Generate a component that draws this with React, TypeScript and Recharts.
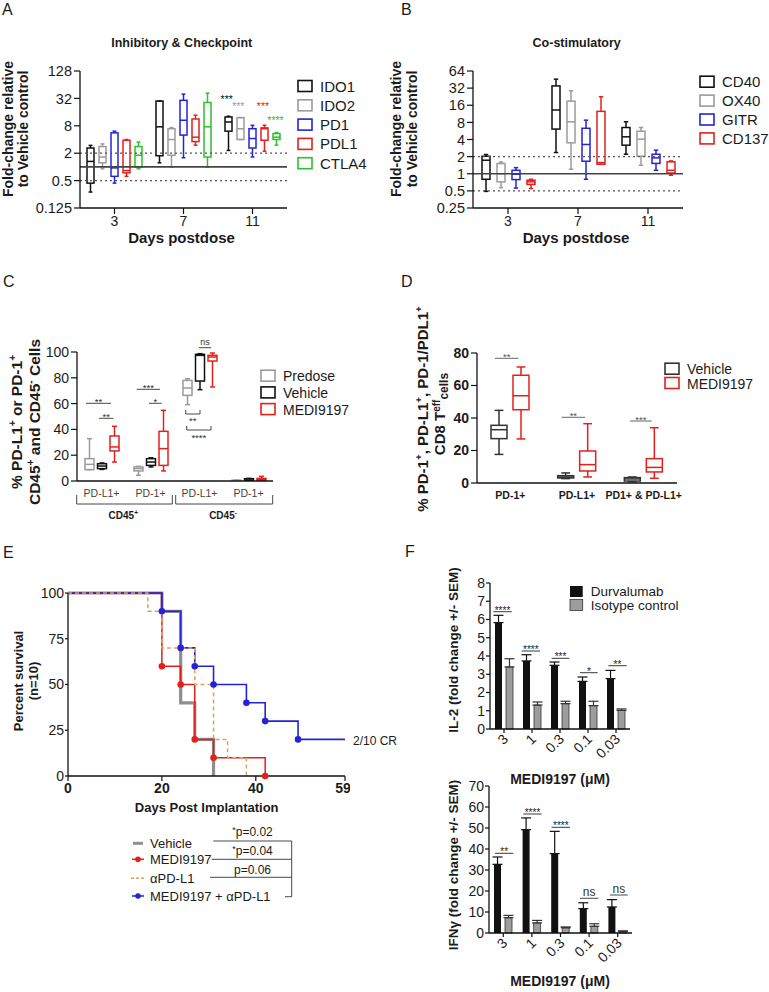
import { BarChart, Bar, XAxis, YAxis, ReferenceLine, LineChart, Line, ErrorBar } from "recharts";

const FONT = "'Liberation Sans', Arial, Helvetica, sans-serif";
const INK = "#1b1b1b";
const BLUE = "#2424d6";
const RED = "#e3211c";
const GREEN = "#2cc12c";
const GRAY = "#9b9b9b";

// ---- A: inhibitory & checkpoint, fold change per day: [min, q1, median, q3, max]
const daysA = ["3", "7", "11"];
const ido1A = [[0.28, 0.44, 1.32, 2.6, 2.97], [1.23, 1.76, 7.6, 28, 28], [2.3, 6.1, 9.7, 12.5, 13]];
const ido2A = [[0.91, 1.23, 1.65, 2.8, 3.2], [0.99, 1.8, 4, 6.9, 7.3], [4, 4, 6.9, 12.1, 12.1]];
const pd1A = [[0.44, 0.62, 0.95, 5.6, 6.1], [1.59, 5.0, 10.6, 29, 39.7], [1.65, 2.6, 4.2, 6.9, 8.2]];
const pdl1A = [[0.62, 0.74, 0.83, 3.85, 4], [3.0, 3.6, 4.5, 11.3, 13.7], [2.2, 3.85, 6.9, 7.2, 8.2]];
const ctla4A = [[0.91, 0.99, 1.8, 2.8, 3.5], [0.99, 1.65, 7.6, 26, 41.8], [3, 4, 4.5, 5.4, 5.7]];

// ---- B: co-stimulatory
const daysB = ["3", "7", "11"];
const cd40B = [[0.49, 0.8, 1.73, 2.03, 2.18], [2.36, 6.1, 13.2, 35, 46], [2.2, 3.18, 4.46, 6.5, 8.2]];
const ox40B = [[0.57, 0.72, 1.0, 1.51, 1.61], [1.2, 3.5, 8.2, 18.9, 28.8], [1.41, 2.03, 4.06, 5.6, 6.5]];
const gitrB = [[0.56, 0.79, 0.98, 1.15, 1.28], [0.8, 1.66, 3.27, 6.3, 8.75], [1.15, 1.52, 1.9, 2.2, 2.6]];
const cd137B = [[0.55, 0.65, 0.72, 0.77, 0.8], [1.47, 1.47, 1.57, 12.5, 22.6], [0.94, 1.03, 1.15, 1.62, 1.68]];

// ---- C: % PD-L1+ / PD-1+ cells (CD45+ pair, then CD45- pair)
const catsC = ["PD-L1+", "PD-1+", "PD-L1+", "PD-1+"];
const predoseC = [[8.8, 8.8, 12.9, 17.3, 32.8], [4.4, 7.8, 9.6, 10.9, 11.4], [59.2, 66.4, 72.1, 78, 79.3], [0, 0, 0.3, 0.6, 0.8]];
const vehicleC = [[9, 9.6, 11.6, 13.4, 14], [10.9, 12.1, 14.7, 17.3, 18], [70.8, 77.5, 97.4, 98.2, 98.7], [0, 0.2, 0.8, 1.8, 2]];
const mediC = [[14.7, 23.3, 26.4, 34.9, 42.4], [7.8, 12.1, 25.1, 38.5, 54.8], [72.9, 93, 96.1, 97.4, 99.2], [0, 0.3, 1, 2, 3.6]];

// ---- D: CD8 Teff cells
const catsD = ["PD-1+", "PD-L1+", "PD1+ & PD-L1+"];
const vehicleD = [[17.6, 27.3, 32.8, 35.5, 44.7], [2.7, 3.1, 3.7, 4.5, 6.2], [0.8, 1.2, 2.5, 3.3, 3.7]];
const mediD = [[27.1, 45.1, 53.7, 66.3, 71.4], [3.7, 7.4, 11.3, 19.7, 36.5], [2.9, 6.8, 9.6, 15, 34]];

// ---- E: survival [day, percent]
const survVehicle = [[0, 100], [20, 90], [24, 40], [27, 20], [31, 0]];
const survMedi = [[0, 100], [20, 60], [24, 50], [27, 20], [31, 10], [42, 0]];
const survPdl1 = [[0, 100], [17, 90], [20, 70], [27, 50], [31, 20], [34, 10], [38, 0]];
const survCombo = [[0, 100], [20, 90], [24, 70], [27, 60], [31, 50], [38, 40], [42, 30], [49, 20], [59, 20]];

// ---- F: fold change +/- SEM per MEDI9197 dose
const doses = ["3", "1", "0.3", "0.1", "0.03"];
const il2Durva = [5.83, 3.73, 3.49, 2.61, 2.76];
const il2DurvaSem = [0.4, 0.34, 0.18, 0.24, 0.45];
const il2Iso = [3.4, 1.31, 1.39, 1.28, 1.02];
const il2IsoSem = [0.45, 0.17, 0.13, 0.24, 0.08];
const ifnDurva = [32.7, 49.2, 37.8, 11.6, 12.4];
const ifnDurvaSem = [3.5, 5.6, 10.6, 2.8, 3.5];
const ifnIso = [7.3, 4.8, 2.5, 3.2, 0.8];
const ifnIsoSem = [1.1, 1.2, 0.4, 1.2, 0.2];

const axisStyle = { stroke: "#111", strokeWidth: 1.3 };
const tickLineStyle = { stroke: "#111", strokeWidth: 1.2 };

function BoxShape(props: any) {
    const { x, y, width, height, stats, color, log } = props;
    if (!stats || !isFinite(y) || !isFinite(height)) return <g />;
    const f = log ? (v: number) => Math.log2(v) : (v: number) => v;
    const [lo, q1, med, q3, hi] = stats;
    const top = Math.min(y, y + height);
    const h = Math.abs(height);
    // pixels per unit, taken from the bar the library placed for [q1, q3]
    const k = h / (f(q3) - f(q1));
    const py = (v: number) => top + (f(q3) - f(v)) * k;
    const cx = x + width / 2;
    const cap = Math.max(3, width * 0.55) / 2;
    return (
        <g stroke={color} strokeWidth={1.5} fill="none">
            <line x1={cx} x2={cx} y1={py(hi)} y2={top} />
            <line x1={cx} x2={cx} y1={top + h} y2={py(lo)} />
            <line x1={cx - cap} x2={cx + cap} y1={py(hi)} y2={py(hi)} />
            <line x1={cx - cap} x2={cx + cap} y1={py(lo)} y2={py(lo)} />
            <rect x={x} y={top} width={width} height={h} />
            <line x1={x} x2={x + width} y1={py(med)} y2={py(med)} />
        </g>
    );
}

function BoxPanel({ frame, cats, series, log = false, domain, ticks, barSize, barGap, yTick, xTick, xHeight = 20, xTickLine = false, children }: any) {
    const rows = cats.map((c: string, i: number) => {
        const row: any = { id: i, label: c };
        series.forEach((s: any) => { row[s.name] = s.stats[i]; });
        return row;
    });
    return (
        <div style={{ position: "absolute", left: frame.left, top: frame.top }}>
            <BarChart width={frame.width} height={frame.height} data={rows} margin={frame.margin} barSize={barSize} barGap={barGap}>
                <XAxis
                    dataKey="id"
                    type="category"
                    height={xHeight}
                    tickFormatter={(i: number) => cats[i]}
                    tick={xTick}
                    axisLine={axisStyle}
                    tickLine={xTickLine ? tickLineStyle : false}
                    tickSize={xTickLine ? 6 : 4}
                    tickMargin={xTickLine ? 2 : 5}
                    interval={0}
                />
                <YAxis
                    scale={log ? "log" : "linear"}
                    domain={domain}
                    ticks={ticks}
                    allowDataOverflow
                    width={frame.yWidth}
                    tick={yTick}
                    axisLine={axisStyle}
                    tickLine={tickLineStyle}
                    tickSize={6}
                    tickMargin={2}
                    interval={0}
                />
                {children}
                {series.map((s: any) => (
                    <Bar
                        key={s.name}
                        name={s.name}
                        dataKey={(r: any) => [r[s.name][1], r[s.name][3]]}
                        isAnimationActive={false}
                        shape={(p: any) => <BoxShape {...p} stats={p.payload[s.name]} color={s.color} log={log} />}
                    />
                ))}
            </BarChart>
        </div>
    );
}

function SurvivalPanel() {
    const curves = [
        { name: "Vehicle", pts: survVehicle, color: "#8e8e8e", width: 3.2, dash: undefined, marker: false },
        { name: "MEDI9197", pts: survMedi, color: RED, width: 1.5, dash: undefined, marker: true },
        { name: "MEDI9197 + aPD-L1", pts: survCombo, color: BLUE, width: 1.6, dash: undefined, marker: true },
        { name: "aPD-L1", pts: survPdl1, color: "#dba35e", width: 1.5, dash: "4 3", marker: false },
    ];
    return (
        <div style={{ position: "absolute", left: 0, top: 560 }}>
            <LineChart width={350} height={246} margin={{ top: 33, right: 5, bottom: 0, left: 28 }}>
                <XAxis
                    dataKey="day"
                    type="number"
                    domain={[0, 59]}
                    ticks={[0, 20, 40, 59]}
                    allowDataOverflow
                    height={30}
                    tick={{ fontSize: 14, fontWeight: 700, fill: INK }}
                    axisLine={axisStyle}
                    tickLine={tickLineStyle}
                    tickSize={5}
                    tickMargin={2}
                />
                <YAxis
                    domain={[0, 100]}
                    ticks={[0, 25, 50, 75, 100]}
                    width={40}
                    tick={{ fontSize: 14, fill: INK }}
                    axisLine={axisStyle}
                    tickLine={tickLineStyle}
                    tickSize={3}
                    tickMargin={1}
                />
                {curves.map((s) => (
                    <Line
                        key={s.name}
                        name={s.name}
                        data={s.pts.map(([day, pct]) => ({ day, pct }))}
                        dataKey="pct"
                        type="stepAfter"
                        stroke={s.color}
                        strokeWidth={s.width}
                        strokeDasharray={s.dash}
                        isAnimationActive={false}
                        activeDot={false}
                        dot={(p: any) => {
                            const i = p.index;
                            const event = s.marker && i > 0 && s.pts[i][1] !== s.pts[i - 1][1];
                            return event
                                ? <circle key={`${s.name}-${i}`} cx={p.cx} cy={p.cy} r={3.3} fill={s.color} stroke="none" />
                                : <g key={`${s.name}-${i}`} />;
                        }}
                    />
                ))}
            </LineChart>
        </div>
    );
}

const SlantTick = ({ x, y, payload }: any) => (
    <text transform={`translate(${x + 5},${y + 5}) rotate(-45)`} textAnchor="end" fontSize={14} fill={INK}>
        {payload.value}
    </text>
);

function DosePanel({ frame, durva, durvaSem, iso, isoSem, ticks }: any) {
    const rows = doses.map((d, i) => ({
        dose: d,
        durva: durva[i],
        durvaErr: [0, durvaSem[i]],
        iso: iso[i],
        isoErr: [0, isoSem[i]],
    }));
    return (
        <div style={{ position: "absolute", left: frame.left, top: frame.top }}>
            <BarChart width={frame.width} height={frame.height} data={rows} margin={frame.margin} barSize={7} barGap={4}>
                <XAxis dataKey="dose" height={40} tick={<SlantTick />} axisLine={axisStyle} tickLine={tickLineStyle} tickSize={4} interval={0} />
                <YAxis
                    domain={[ticks[0], ticks[ticks.length - 1]]}
                    ticks={ticks}
                    width={35}
                    tick={{ fontSize: 14, fill: INK }}
                    axisLine={axisStyle}
                    tickLine={tickLineStyle}
                    tickSize={4}
                    tickMargin={1}
                    interval={0}
                />
                <Bar dataKey="durva" fill="#111" isAnimationActive={false}>
                    <ErrorBar dataKey="durvaErr" width={5} stroke="#111" strokeWidth={1.2} direction="y" />
                </Bar>
                <Bar dataKey="iso" fill="#9d9d9d" stroke="#333" strokeWidth={0.8} isAnimationActive={false}>
                    <ErrorBar dataKey="isoErr" width={5} stroke="#333" strokeWidth={1.2} direction="y" />
                </Bar>
            </BarChart>
        </div>
    );
}

// ---------- annotation helpers ----------
const VText = ({ x, y, size, children, weight = 700 }: any) => (
    <text transform={`translate(${x},${y}) rotate(-90)`} textAnchor="middle" fontSize={size} fontWeight={weight} fill={INK}>
        {children}
    </text>
);

const Sig = ({ x1, x2, y, label, color = "#333", size = 10 }: any) => (
    <g>
        <line x1={x1} x2={x2} y1={y} y2={y} stroke={color} strokeWidth={0.9} />
        <text x={(x1 + x2) / 2} y={label === "ns" ? y - 2.5 : y + 2} textAnchor="middle" fontSize={size} fill={color}>
            {label}
        </text>
    </g>
);

const LegendBoxes = ({ x, y0, step, items, size = 15 }: any) => (
    <g>
        {items.map((it: any, i: number) => (
            <g key={it.name}>
                <rect x={x} y={y0 + i * step - 5.5} width={14} height={11} fill="none" stroke={it.color} strokeWidth={1.6} />
                <text x={x + 22} y={y0 + i * step + 5.5} fontSize={size} fill={INK}>{it.name}</text>
            </g>
        ))}
    </g>
);

const sup = (s: string, size: number, last = false, next = "") => [
    <tspan key={"a" + s + next} dy={-size * 0.38} fontSize={size * 0.65}>{s}</tspan>,
    last ? null : <tspan key={"b" + s + next} dy={size * 0.38}>{next}</tspan>,
];

function Overlay() {
    return (
        <svg width={769} height={992} style={{ position: "absolute", left: 0, top: 0, pointerEvents: "none" }} fontFamily={FONT}>
            {/* panel letters */}
            <g fontSize={16} fill={INK}>
                <text x={2} y={15}>A</text>
                <text x={401} y={15}>B</text>
                <text x={3} y={287}>C</text>
                <text x={401} y={287}>D</text>
                <text x={3} y={558}>E</text>
                <text x={405} y={557}>F</text>
            </g>

            {/* A */}
            <text x={181.7} y={46.5} textAnchor="middle" fontSize={12.5} fontWeight={700} fill={INK}>Inhibitory &amp; Checkpoint</text>
            <VText x={12.5} y={129} size={14}>Fold-change relative</VText>
            <VText x={28} y={129} size={14}>to Vehicle control</VText>
            <text x={181.5} y={243} textAnchor="middle" fontSize={15} fontWeight={700} fill={INK}>Days postdose</text>
            <LegendBoxes x={298} y0={86} step={19.3} items={[
                { name: "IDO1", color: "#111" }, { name: "IDO2", color: GRAY }, { name: "PD1", color: BLUE },
                { name: "PDL1", color: RED }, { name: "CTLA4", color: GREEN },
            ]} />
            <g fontSize={10.5} textAnchor="middle">
                <text x={226.7} y={103} fill="#111">***</text>
                <text x={238.3} y={110.4} fill={GRAY}>***</text>
                <text x={263} y={110.4} fill={RED}>***</text>
                <text x={275.5} y={124.4} fill={GREEN}>****</text>
            </g>

            {/* B */}
            <text x={576.7} y={46.5} textAnchor="middle" fontSize={12.5} fontWeight={700} fill={INK}>Co-stimulatory</text>
            <VText x={401} y={129} size={14}>Fold-change relative</VText>
            <VText x={417} y={129} size={14}>to Vehicle control</VText>
            <text x={576} y={243} textAnchor="middle" fontSize={15} fontWeight={700} fill={INK}>Days postdose</text>
            <LegendBoxes x={700} y0={81.7} step={18.9} items={[
                { name: "CD40", color: "#111" }, { name: "OX40", color: GRAY }, { name: "GITR", color: BLUE }, { name: "CD137", color: RED },
            ]} />

            {/* C */}
            <VText x={21.5} y={422} size={15.5}>% PD-L1{sup("+", 15.5, false, " or PD-1")}{sup("+", 15.5, true)}</VText>
            <VText x={40} y={422} size={15.5}>CD45{sup("+", 15.5, false, " and CD45")}{sup("-", 15.5, false, " Cells")}</VText>
            <LegendBoxes x={261} y0={375.7} step={16.7} size={14} items={[
                { name: "Predose", color: GRAY }, { name: "Vehicle", color: "#111" }, { name: "MEDI9197", color: RED },
            ]} />
            <Sig x1={86} x2={111} y={403.3} label="**" size={9.5} />
            <Sig x1={99} x2={113.3} y={418.3} label="**" size={9.5} />
            <Sig x1={136.7} x2={160} y={389.3} label="***" size={9.5} />
            <Sig x1={149} x2={161.7} y={403.3} label="*" size={9.5} />
            <Sig x1={199} x2={211} y={347.7} label="ns" size={9} />
            <g stroke="#333" strokeWidth={0.9} fill="none">
                <path d="M185.7,410 V414 H200 V410" />
                <path d="M186.7,426 V430 H211 V426" />
                <path d="M76.7,495 V504 H172.3 V495" />
                <path d="M175.7,495 V504 H272.7 V495" />
            </g>
            <g fontSize={9.5} fill="#333" textAnchor="middle">
                <text x={192.8} y={424}>**</text>
                <text x={198.8} y={441}>****</text>
            </g>
            <g fontSize={10} fontWeight={700} fill={INK} textAnchor="middle">
                <text x={123.3} y={519}>CD45{sup("+", 10, true)}</text>
                <text x={223} y={519}>CD45{sup("-", 10, true)}</text>
            </g>

            {/* D */}
            <VText x={428} y={409} size={15}>% PD-1{sup("+", 15, false, ", PD-L1")}{sup("+", 15, false, ", PD-1/PDL1")}{sup("+", 15, true)}</VText>
            <VText x={445} y={414} size={15}>
                CD8 T<tspan dy={-5.5} fontSize={10}>eff</tspan><tspan dy={8.5} fontSize={12}>cells</tspan>
            </VText>
            <LegendBoxes x={665} y0={368.7} step={14.3} size={14} items={[
                { name: "Vehicle", color: "#333" }, { name: "MEDI9197", color: RED },
            ]} />
            <Sig x1={495} x2={518.3} y={358.3} label="**" color="#555" size={9.5} />
            <Sig x1={561.7} x2={585} y={417.3} label="**" color="#555" size={9.5} />
            <Sig x1={630} x2={651.7} y={421} label="***" color="#555" size={9.5} />

            {/* E */}
            <VText x={23} y={681} size={13}>Percent survival</VText>
            <VText x={37.5} y={681} size={13}>(n=10)</VText>
            <text x={206.7} y={812} textAnchor="middle" fontSize={13} fontWeight={700} fill={INK}>Days Post Implantation</text>
            <text x={353} y={745} fontSize={12} fill={INK}>2/10 CR</text>
            <g fontSize={13} fill={INK}>
                <line x1={133} x2={143} y1={843.3} y2={843.3} stroke="#8e8e8e" strokeWidth={3} />
                <text x={150} y={848}>Vehicle</text>
                <line x1={132} x2={144} y1={859.3} y2={859.3} stroke={RED} strokeWidth={1.5} />
                <circle cx={138} cy={859.3} r={2.8} fill={RED} />
                <text x={150} y={864}>MEDI9197</text>
                <line x1={131} x2={145} y1={878.3} y2={878.3} stroke="#dba35e" strokeWidth={1.5} strokeDasharray="3 2" />
                <text x={150} y={883}>αPD-L1</text>
                <line x1={132} x2={144} y1={896} y2={896} stroke={BLUE} strokeWidth={1.5} />
                <circle cx={138} cy={896} r={2.8} fill={BLUE} />
                <text x={150} y={901}>MEDI9197 + αPD-L1</text>
            </g>
            <g stroke="#333" strokeWidth={0.9} fill="none">
                <path d="M213.3,841 H291.7 V896.7 H285" />
                <path d="M211.7,859.3 H291.7" />
                <path d="M210,877.3 H291.7" />
            </g>
            <g fontSize={12} fill={INK} textAnchor="middle">
                <text x={252.5} y={836}><tspan fontSize={9} dy={-3}>*</tspan><tspan dy={3}>p=0.02</tspan></text>
                <text x={252.5} y={854.5}><tspan fontSize={9} dy={-3}>*</tspan><tspan dy={3}>p=0.04</tspan></text>
                <text x={252.5} y={873.5}>p=0.06</text>
            </g>

            {/* F */}
            <VText x={458} y={650} size={13.5}>IL-2 (fold change +/-  SEM)</VText>
            <VText x={458} y={865} size={13.5}>IFNγ (fold change +/-  SEM)</VText>
            <text x={560} y={784} textAnchor="middle" fontSize={14} fontWeight={700} fill={INK}>MEDI9197 (μM)</text>
            <text x={560} y={986} textAnchor="middle" fontSize={14} fontWeight={700} fill={INK}>MEDI9197 (μM)</text>
            <rect x={570} y={586} width={12.7} height={11} fill="#111" />
            <rect x={570} y={599.5} width={12.7} height={11} fill="#9d9d9d" stroke="#333" strokeWidth={0.8} />
            <text x={590.7} y={596} fontSize={13.5} fill={INK}>Durvalumab</text>
            <text x={590.7} y={609.5} fontSize={13.5} fill={INK}>Isotype control</text>
            <Sig x1={493.3} x2={511.7} y={611.7} label="****" color="#222" />
            <Sig x1={521.7} x2={540} y={651} label="****" color="#222" />
            <Sig x1={551.7} x2={569.3} y={658.3} label="***" color="#222" />
            <Sig x1={580} x2={597.7} y={672.7} label="*" color="#222" />
            <Sig x1={608.3} x2={626.7} y={665.7} label="**" color="#222" />
            <Sig x1={495} x2={513.3} y={853.3} label="**" color="#222" />
            <Sig x1={523.3} x2={541.7} y={814} label="****" color="#222" />
            <Sig x1={551.7} x2={570} y={827.3} label="****" color="#222" />
            <Sig x1={580} x2={598.3} y={898.3} label="ns" color="#333" size={12} />
            <Sig x1={610} x2={627.7} y={895} label="ns" color="#333" size={12} />
        </svg>
    );
}

export default function App() {
    const seriesA = [
        { name: "IDO1", color: "#111", stats: ido1A },
        { name: "IDO2", color: GRAY, stats: ido2A },
        { name: "PD1", color: BLUE, stats: pd1A },
        { name: "PDL1", color: RED, stats: pdl1A },
        { name: "CTLA4", color: GREEN, stats: ctla4A },
    ];
    const seriesB = [
        { name: "CD40", color: "#111", stats: cd40B },
        { name: "OX40", color: GRAY, stats: ox40B },
        { name: "GITR", color: BLUE, stats: gitrB },
        { name: "CD137", color: RED, stats: cd137B },
    ];
    const seriesC = [
        { name: "Predose", color: GRAY, stats: predoseC },
        { name: "Vehicle", color: "#111", stats: vehicleC },
        { name: "MEDI9197", color: RED, stats: mediC },
    ];
    const seriesD = [
        { name: "Vehicle", color: "#333", stats: vehicleD },
        { name: "MEDI9197", color: RED, stats: mediD },
    ];
    const refs = (key: string) => [
        <ReferenceLine key={key + "2"} y={2} stroke="#555" strokeWidth={1.3} strokeDasharray="2 3" />,
        <ReferenceLine key={key + "h"} y={0.5} stroke="#555" strokeWidth={1.3} strokeDasharray="2 3" />,
        <ReferenceLine key={key + "1"} y={1} stroke="#444" strokeWidth={1.6} />,
    ];
    const foldTick = { fontSize: 14.5, fill: INK };
    const dayTick = { fontSize: 14, fill: INK };

    return (
        <div style={{ position: "absolute", left: 0, top: 0, width: 769, height: 992, background: "#fff", fontFamily: FONT, color: INK }}>
            <BoxPanel
                frame={{ left: 0, top: 0, width: 290, height: 250, yWidth: 49, margin: { top: 71, right: 3, bottom: 12, left: 31 } }}
                cats={daysA} series={seriesA} log domain={[0.125, 128]} ticks={[0.125, 0.5, 2, 8, 32, 128]}
                barSize={7} barGap={5} yTick={foldTick} xTick={dayTick} xHeight={30} xTickLine
            >
                {refs("a")}
            </BoxPanel>
            <BoxPanel
                frame={{ left: 392, top: 0, width: 294, height: 250, yWidth: 49, margin: { top: 71, right: 3, bottom: 12, left: 32 } }}
                cats={daysB} series={seriesB} log domain={[0.25, 64]} ticks={[0.25, 0.5, 1, 2, 4, 8, 16, 32, 64]}
                barSize={8} barGap={7} yTick={foldTick} xTick={dayTick} xHeight={30} xTickLine
            >
                {refs("b")}
            </BoxPanel>
            <BoxPanel
                frame={{ left: 0, top: 300, width: 276, height: 201, yWidth: 49, margin: { top: 52, right: 3, bottom: 0, left: 28 } }}
                cats={catsC} series={seriesC} domain={[0, 100]} ticks={[0, 20, 40, 60, 80, 100]}
                barSize={9} barGap={3.5} yTick={{ fontSize: 14, fill: INK }} xTick={{ fontSize: 10.5, fill: "#444" }}
            />
            <BoxPanel
                frame={{ left: 420, top: 300, width: 275, height: 203, yWidth: 49, margin: { top: 53, right: 18, bottom: 0, left: 8 } }}
                cats={catsD} series={seriesD} domain={[0, 80]} ticks={[0, 20, 40, 60, 80]}
                barSize={16} barGap={6} yTick={{ fontSize: 14, fontWeight: 700, fill: INK }} xTick={{ fontSize: 10.5, fontWeight: 700, fill: INK }}
            />
            <SurvivalPanel />
            <DosePanel
                frame={{ left: 430, top: 560, width: 205, height: 209, margin: { top: 23, right: 5, bottom: 0, left: 25 } }}
                durva={il2Durva} durvaSem={il2DurvaSem} iso={il2Iso} isoSem={il2IsoSem} ticks={[0, 1, 2, 3, 4, 5, 6, 7, 8]}
            />
            <DosePanel
                frame={{ left: 430, top: 770, width: 207, height: 203, margin: { top: 16, right: 5, bottom: 0, left: 24 } }}
                durva={ifnDurva} durvaSem={ifnDurvaSem} iso={ifnIso} isoSem={ifnIsoSem} ticks={[0, 10, 20, 30, 40, 50, 60, 70]}
            />
            <Overlay />
        </div>
    );
}
